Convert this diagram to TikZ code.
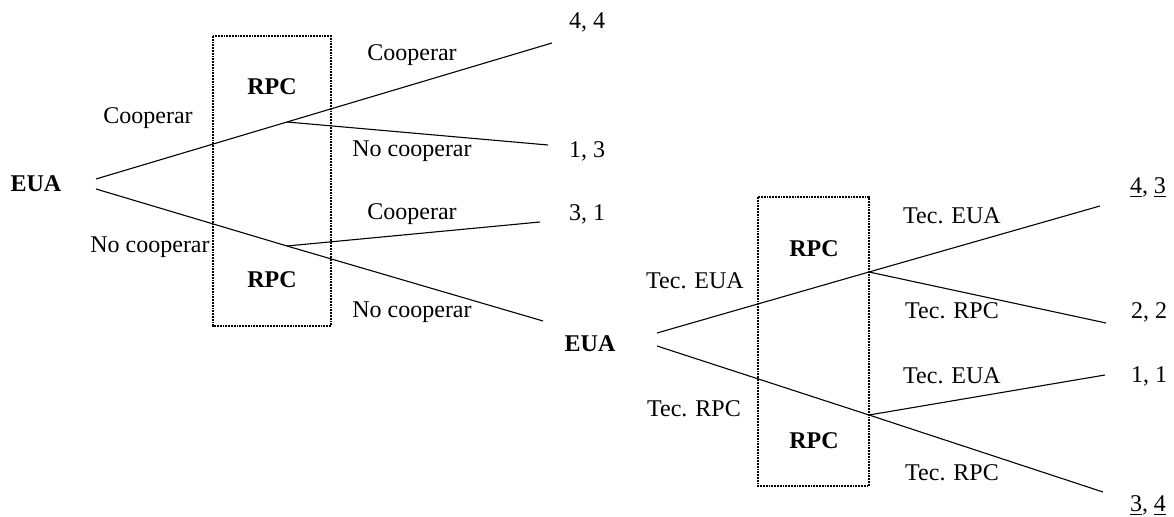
\documentclass[tikz,border=0pt]{standalone}
\usepackage{fontspec}
\setmainfont{Liberation Serif}
\begin{document}
\begin{tikzpicture}[x=0.5pt,y=-0.5pt,
  txt/.style={inner sep=0pt,font=\fontsize{12}{14}\selectfont},
  player/.style={txt,font=\fontsize{12}{14}\selectfont\bfseries},
  branch/.style={line width=0.55pt},
  infoset/.style={line width=0.75pt,dash pattern=on 0.9pt off 0.5pt}]
\useasboundingbox (0,0) rectangle (1174,517);

% ---- first stage: cooperation game ----
\node[player] (eua1) at (36,184) {EUA};
\coordinate (eua1up) at (96,179);
\coordinate (eua1dn) at (96,189);
\draw[infoset] (213,36) rectangle (331,326);
\node[player] (rpc1) at (272,87) {RPC};
\node[player] (rpc2) at (272,280) {RPC};
\coordinate (b1) at (287,122);
\coordinate (b2) at (287,246);
\coordinate (t11) at (552,43);
\coordinate (t12) at (548,145);
\coordinate (t21) at (540,222);
\coordinate (t22) at (543,321);
\draw[branch] (eua1up) -- (b1) -- (t11);
\draw[branch] (b1) -- (t12);
\draw[branch] (eua1dn) -- (b2) -- (t22);
\draw[branch] (b2) -- (t21);
\node[txt] at (148,118) {Cooperar};
\node[txt] at (150,247) {No cooperar};
\node[txt] at (412,55) {Cooperar};
\node[txt] at (412,151) {No cooperar};
\node[txt] at (412,214) {Cooperar};
\node[txt] at (412,312) {No cooperar};
\node[txt] (p11) at (587,22) {4, 4};
\node[txt] (p12) at (587,151) {1, 3};
\node[txt] (p21) at (587,214) {3, 1};

% ---- second stage: technology game ----
\node[player] (eua2) at (590,344) {EUA};
\coordinate (eua2up) at (657,333);
\coordinate (eua2dn) at (657,346);
\draw[infoset] (758,197) rectangle (869,486);
\node[player] (rpc3) at (814,249) {RPC};
\node[player] (rpc4) at (814,441) {RPC};
\coordinate (b3) at (869,272);
\coordinate (b4) at (869,415);
\coordinate (t31) at (1100,206);
\coordinate (t32) at (1106,323);
\coordinate (t41) at (1105,375);
\coordinate (t42) at (1103,492);
\draw[branch] (eua2up) -- (b3) -- (t31);
\draw[branch] (b3) -- (t32);
\draw[branch] (eua2dn) -- (b4) -- (t42);
\draw[branch] (b4) -- (t41);
\node[txt] at (695,281) {Tec. EUA};
\node[txt] at (694,409) {Tec. RPC};
\node[txt] at (952,216) {Tec. EUA};
\node[txt] at (952,311) {Tec. RPC};
\node[txt] at (952,376) {Tec. EUA};
\node[txt] at (952,473) {Tec. RPC};
\node[txt] (p31) at (1148,188) {\underline{4}, \underline{3}};
\node[txt] (p32) at (1149,312) {2, 2};
\node[txt] (p41) at (1149,376) {1, 1};
\node[txt] (p42) at (1148,506) {\underline{3}, \underline{4}};
\end{tikzpicture}
\end{document}
